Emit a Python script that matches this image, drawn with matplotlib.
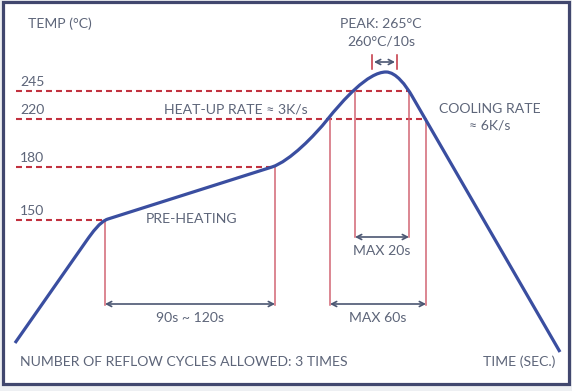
"""Reflow soldering profile schematic."""

import matplotlib
matplotlib.use("Agg")
import matplotlib.pyplot as plt
from matplotlib.path import Path
from matplotlib.patches import PathPatch, Rectangle

plt.rcParams["font.family"] = ["Lato", "DejaVu Sans"]
plt.rcParams["lines.scale_dashes"] = False

BLUE = "#3a4ea0"
RED = "#c2313f"
PINK = "#d26674"
TEXT = "#5d6579"
ARROW = "#4b5672"
FRAME = "#41476e"
FS = 10.1

# schematic coordinates (time to the right, temperature upward on an inverted axis)
temp_labels = ["150", "180", "220", "245"]
temp_y = [220, 167, 119, 91]
temp_line_end = [105, 272, 426, 409]

# profile curve: vertices and path codes (lines + bezier bends)
profile_xy = [(15, 343), (87, 240),
              (92, 233), (100, 221.5), (108, 219),
              (272, 167),
              (290, 161), (315, 135), (327, 120),
              (343, 100), (368, 72), (386, 72),
              (396, 72), (406, 85.6), (412, 96),
              (560, 352)]
profile_codes = [Path.MOVETO, Path.LINETO,
                 Path.CURVE4, Path.CURVE4, Path.CURVE4,
                 Path.LINETO,
                 Path.CURVE4, Path.CURVE4, Path.CURVE4,
                 Path.CURVE4, Path.CURVE4, Path.CURVE4,
                 Path.CURVE4, Path.CURVE4, Path.CURVE4,
                 Path.LINETO]

# vertical markers: x, top, bottom
markers_x = [105, 275, 330, 355, 409, 426]
markers_top = [220, 167, 119, 91, 91, 119]
markers_bottom = [305, 305, 305, 237, 237, 305]

# duration arrows: start, end, y, label
spans_start = [105, 330, 355]
spans_end = [275, 426, 409]
spans_y = [304, 304, 237]
spans_label = ["90s ~ 120s", "MAX 60s", "MAX 20s"]

fig = plt.figure(figsize=(5.72, 3.91), dpi=100, facecolor="#eef0f3")
ax = fig.add_axes([0, 0, 1, 1])
ax.set_xlim(0, 572)
ax.set_ylim(391, 0)
ax.axis("off")

ax.add_patch(Rectangle((2.5, 1.5), 566, 382, facecolor="white",
                       edgecolor=FRAME, lw=2.3, zorder=0))

for lab, y, xe in zip(temp_labels, temp_y, temp_line_end):
    ax.plot([16, xe], [y, y], color=RED, lw=1.5, dashes=(4.3, 2.9), zorder=2)
    ax.text(20, y - 5, lab, color=TEXT, fontsize=FS, ha="left", va="baseline")

for x, t, b in zip(markers_x, markers_top, markers_bottom):
    ax.plot([x, x], [t, b], color=PINK, lw=1.1, zorder=2)

def span(x0, x1, y):
    ax.annotate("", xy=(x1, y), xytext=(x0, y),
                arrowprops=dict(arrowstyle="<->,head_length=0.35,head_width=0.18",
                                color=ARROW, lw=1.2, shrinkA=0, shrinkB=0))

for x0, x1, y, lab in zip(spans_start, spans_end, spans_y, spans_label):
    span(x0, x1, y)
    ax.text((x0 + x1) / 2, y + 18, lab, color=TEXT, fontsize=FS,
            ha="center", va="baseline")

# peak window
for x in (372, 397):
    ax.plot([x, x], [55, 69], color=RED, lw=1.1)
span(374, 395, 62)

ax.add_patch(PathPatch(Path(profile_xy, profile_codes), facecolor="none",
                       edgecolor=BLUE, lw=2.3, capstyle="butt", zorder=3))

txt = dict(color=TEXT, fontsize=FS, va="baseline")
ax.text(28, 28, "TEMP (°C)", ha="left", **txt)
ax.text(381, 27.5, "PEAK: 265°C", ha="center", **txt)
ax.text(381, 45.5, "260°C/10s", ha="center", **txt)
ax.text(236, 113, "HEAT-UP RATE ≈ 3K/s", ha="center", **txt)
ax.text(490, 113, "COOLING RATE", ha="center", **txt)
ax.text(490, 130, "≈ 6K/s", ha="center", **txt)
ax.text(192, 223, "PRE-HEATING", ha="center", **txt)
ax.text(20, 366, "NUMBER OF REFLOW CYCLES ALLOWED: 3 TIMES", ha="left", **txt)
ax.text(555, 366, "TIME (SEC.)", ha="right", **txt)

fig.savefig("out.png", dpi=100, facecolor=fig.get_facecolor())
